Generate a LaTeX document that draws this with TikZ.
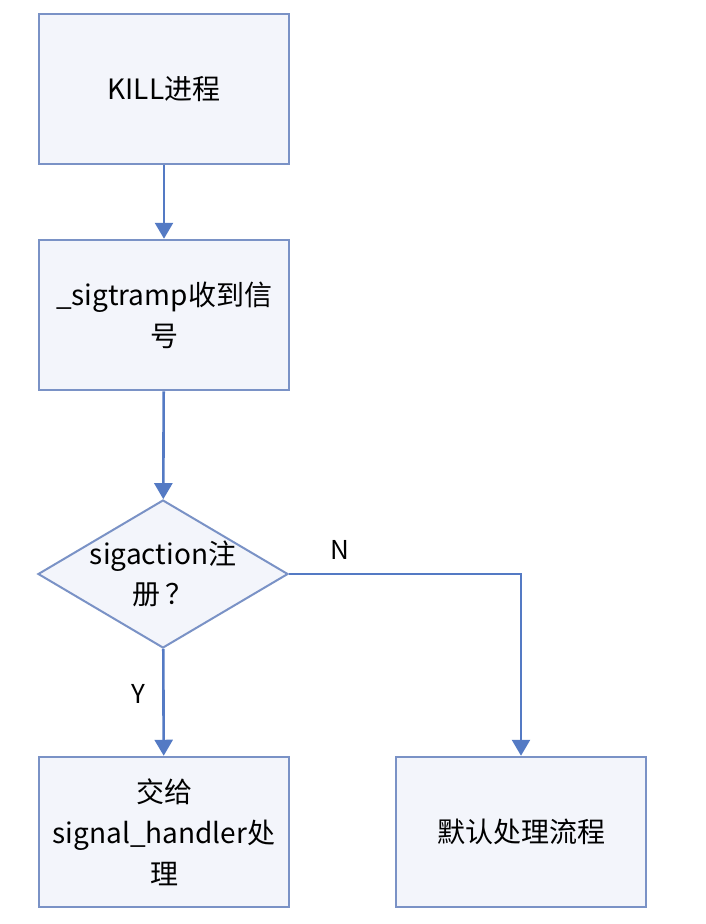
\documentclass[tikz,border=0pt]{standalone}
\usepackage{fontspec}
\newfontfamily\cjk{Noto Sans CJK SC}
\usetikzlibrary{arrows.meta,shapes.geometric}
\definecolor{boxline}{RGB}{122,146,198}
\definecolor{boxfill}{RGB}{243,245,251}
\definecolor{arrowline}{RGB}{84,122,196}
\tikzset{every picture/.append style={x=1pt,y=-1pt}}
\tikzset{stepbox/.style={draw=boxline, line width=2.5pt, fill=boxfill, minimum width=250pt, minimum height=150pt, inner sep=0pt, align=center, font=\cjk\fontsize{28}{41}\selectfont}}
\tikzset{decide/.style={diamond, draw=boxline, line width=2pt, fill=boxfill, minimum width=250pt, minimum height=148pt, aspect=1.69, inner sep=0pt}}
\tikzset{txt/.style={align=center, font=\cjk\fontsize{28}{40}\selectfont}}
\tikzset{flow/.style={draw=arrowline, line width=2.6pt, -{Triangle[width=18pt,length=16pt]}}}
\tikzset{yn/.style={font=\cjk\fontsize{26}{30}\selectfont}}

\begin{document}
\begin{tikzpicture}
  \useasboundingbox[fill=white] (0,0) rectangle (706,924);
  \node (kill) at (164,89)[stepbox]{KILL进程};
  \node (tramp) at (164,315)[stepbox]{\_sigtramp收到信\\号};
  \node (reg) at (163,574)[decide]{};
  \node (regtext) at (reg)[txt]{sigaction注\\册\,？};
  \node (handler) at (164,832)[stepbox]{交给\\signal\_handler处\\理};
  \node (default) at (521,832)[stepbox]{默认处理流程};

  \draw[flow] (kill) -- (tramp);
  \draw[flow] (tramp) -- (reg);
  \draw[flow] (reg) -- (handler) node [pos=0.42, left=14pt, yn] {Y};
  \draw[flow] (reg.east) -| (default.north) node [pos=0.11, above=10pt, yn] {N};
\end{tikzpicture}
\end{document}
